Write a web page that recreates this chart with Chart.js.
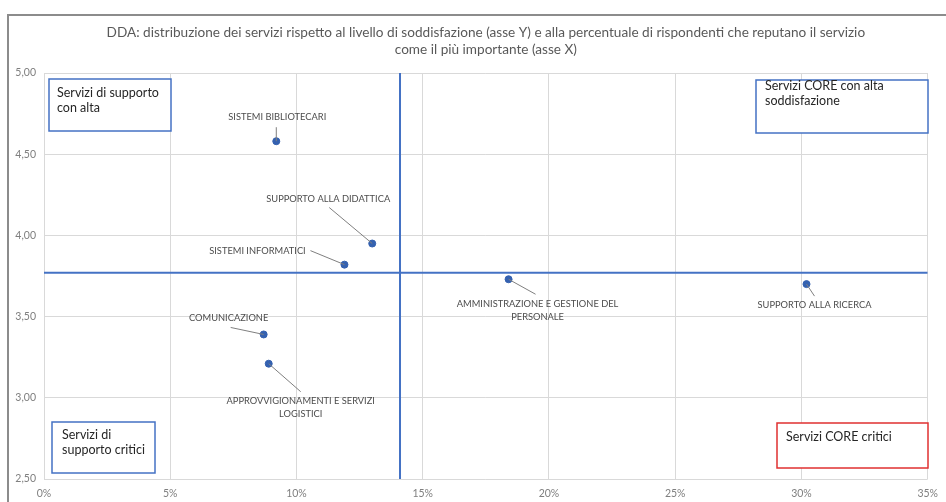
<!DOCTYPE html>
<html>
<head>
<meta charset="utf-8">
<script src="https://cdn.jsdelivr.net/npm/chart.js@4.4.1/dist/chart.umd.min.js"></script>
<style>
    html, body { margin: 0; padding: 0; background: #fff; }
    #wrap { width: 946px; height: 502px; }
</style>
</head>
<body>
<div id="wrap"><canvas id="scatterChart" width="946" height="502"></canvas></div>
<script>
const services = [
    'SISTEMI BIBLIOTECARI',
    'SUPPORTO ALLA DIDATTICA',
    'SISTEMI INFORMATICI',
    'COMUNICAZIONE',
    ['APPROVVIGIONAMENTI E SERVIZI', 'LOGISTICI'],
    ['AMMINISTRAZIONE E GESTIONE DEL', 'PERSONALE'],
    'SUPPORTO ALLA RICERCA'
];
// % of respondents that rate the service as the most important (x)
const importance = [9.2, 13.0, 11.9, 8.7, 8.9, 18.4, 30.2];
// satisfaction level (y)
const satisfaction = [4.58, 3.95, 3.82, 3.39, 3.21, 3.73, 3.70];

const avgImportance = 14.1;
const avgSatisfaction = 3.77;

const titleLines = [
    'DDA: distribuzione dei servizi rispetto al livello di soddisfazione (asse Y) e alla percentuale di rispondenti che reputano il servizio',
    'come il più importante (asse X)'
];
const quadrantTexts = [
    ['Servizi di supporto', 'con alta'],
    ['Servizi CORE con alta', 'soddisfazione'],
    ['Servizi di', 'supporto critici'],
    ['Servizi CORE critici']
];

const FONT = "Lato, 'Liberation Sans', sans-serif";
const GREY = '#595959';
const BLUE = '#4472C4';

// label placement, pixel offsets from the point: [text dx, text dy, leader dx, leader dy]
const labelOffsets = [
    [1, -24, 0, -14],
    [-44, -45, -43, -36],
    [-87, -14, -34, -14],
    [-35, -16, -33, -7],
    [32, 37, 32, 28],
    [29, 25, 27, 15],
    [8, 21, 8, 12]
];

// quadrant boxes: [left, top, width, height, text dx, first line dy, colour]
const boxStyles = [
    [49, 79, 122, 52, 8, 14, BLUE],
    [756, 80, 172, 53, 9, 6, BLUE],
    [52, 422, 103, 51, 10, 13, BLUE],
    [777, 423, 151, 45, 9, 14, '#E03030']
];

const framePlugin = {
    id: 'frame',
    beforeDraw(chart) {
        const ctx = chart.ctx;
        ctx.save();
        ctx.fillStyle = '#fff';
        ctx.fillRect(0, 0, chart.width, chart.height);
        ctx.strokeStyle = '#8c8c8c';
        ctx.lineWidth = 2;
        ctx.strokeRect(8, 15, 1000, 1000);
        ctx.fillStyle = GREY;
        ctx.font = '13.6px ' + FONT;
        ctx.textAlign = 'center';
        ctx.textBaseline = 'middle';
        const cx = (chart.chartArea.left + chart.chartArea.right) / 2;
        titleLines.forEach((t, i) => ctx.fillText(t, cx, 33 + i * 17));
        ctx.restore();
    }
};

const labelPlugin = {
    id: 'pointLabels',
    afterDatasetsDraw(chart) {
        const ctx = chart.ctx;
        const meta = chart.getDatasetMeta(0);
        ctx.save();
        meta.data.forEach((pt, i) => {
            const o = labelOffsets[i];
            ctx.strokeStyle = '#7f7f7f';
            ctx.lineWidth = 1;
            ctx.beginPath();
            ctx.moveTo(pt.x, pt.y);
            ctx.lineTo(pt.x + o[2], pt.y + o[3]);
            ctx.stroke();
            const lines = Array.isArray(services[i]) ? services[i] : [services[i]];
            ctx.fillStyle = '#4d4d4d';
            ctx.font = '9.3px ' + FONT;
            ctx.textAlign = 'center';
            ctx.textBaseline = 'middle';
            lines.forEach((l, j) => ctx.fillText(l, pt.x + o[0], pt.y + o[1] + j * 13));
        });
        // quadrant boxes
        boxStyles.forEach((b, i) => {
            ctx.fillStyle = '#fff';
            ctx.fillRect(b[0], b[1], b[2], b[3]);
            ctx.strokeStyle = b[6];
            ctx.lineWidth = 1.5;
            ctx.strokeRect(b[0], b[1], b[2], b[3]);
            ctx.fillStyle = '#262626';
            ctx.font = '12.5px ' + FONT;
            ctx.textAlign = 'left';
            ctx.textBaseline = 'middle';
            quadrantTexts[i].forEach((t, j) => ctx.fillText(t, b[0] + b[4], b[1] + b[5] + j * 15));
        });
        ctx.restore();
    }
};

const points = importance.map((x, i) => ({ x: x, y: satisfaction[i] }));

new Chart(document.getElementById('scatterChart').getContext('2d'), {
    type: 'scatter',
    data: {
        datasets: [
            {
                data: points,
                backgroundColor: '#3461B0',
                borderColor: '#3461B0',
                pointRadius: 3.5,
                order: 0
            },
            {
                data: [{ x: avgImportance, y: 2.5 }, { x: avgImportance, y: 5 }],
                showLine: true,
                borderColor: BLUE,
                borderWidth: 2,
                pointRadius: 0,
                order: 1
            },
            {
                data: [{ x: 0, y: avgSatisfaction }, { x: 35, y: avgSatisfaction }],
                showLine: true,
                borderColor: BLUE,
                borderWidth: 2,
                pointRadius: 0,
                order: 1
            }
        ]
    },
    options: {
        responsive: false,
        animation: false,
        layout: { padding: { top: 73, right: 11, left: 0, bottom: 0 } },
        plugins: {
            legend: { display: false },
            tooltip: { enabled: false }
        },
        scales: {
            x: {
                type: 'linear',
                min: 0,
                max: 35,
                afterFit: (scale) => { scale.height = 23; },
                grid: { color: '#d9d9d9', drawTicks: false },
                border: { display: false },
                ticks: {
                    stepSize: 5,
                    padding: 8,
                    color: '#7f7f7f',
                    font: { size: 10.5, family: FONT },
                    callback: (v) => v + '%'
                }
            },
            y: {
                min: 2.5,
                max: 5,
                afterFit: (scale) => { scale.width = 44; },
                grid: { color: '#d9d9d9', drawTicks: false },
                border: { display: false },
                ticks: {
                    stepSize: 0.5,
                    padding: 8,
                    color: '#7f7f7f',
                    font: { size: 10.5, family: FONT },
                    callback: (v) => v.toFixed(2).replace('.', ',')
                }
            }
        }
    },
    plugins: [framePlugin, labelPlugin]
});
</script>
</body>
</html>
